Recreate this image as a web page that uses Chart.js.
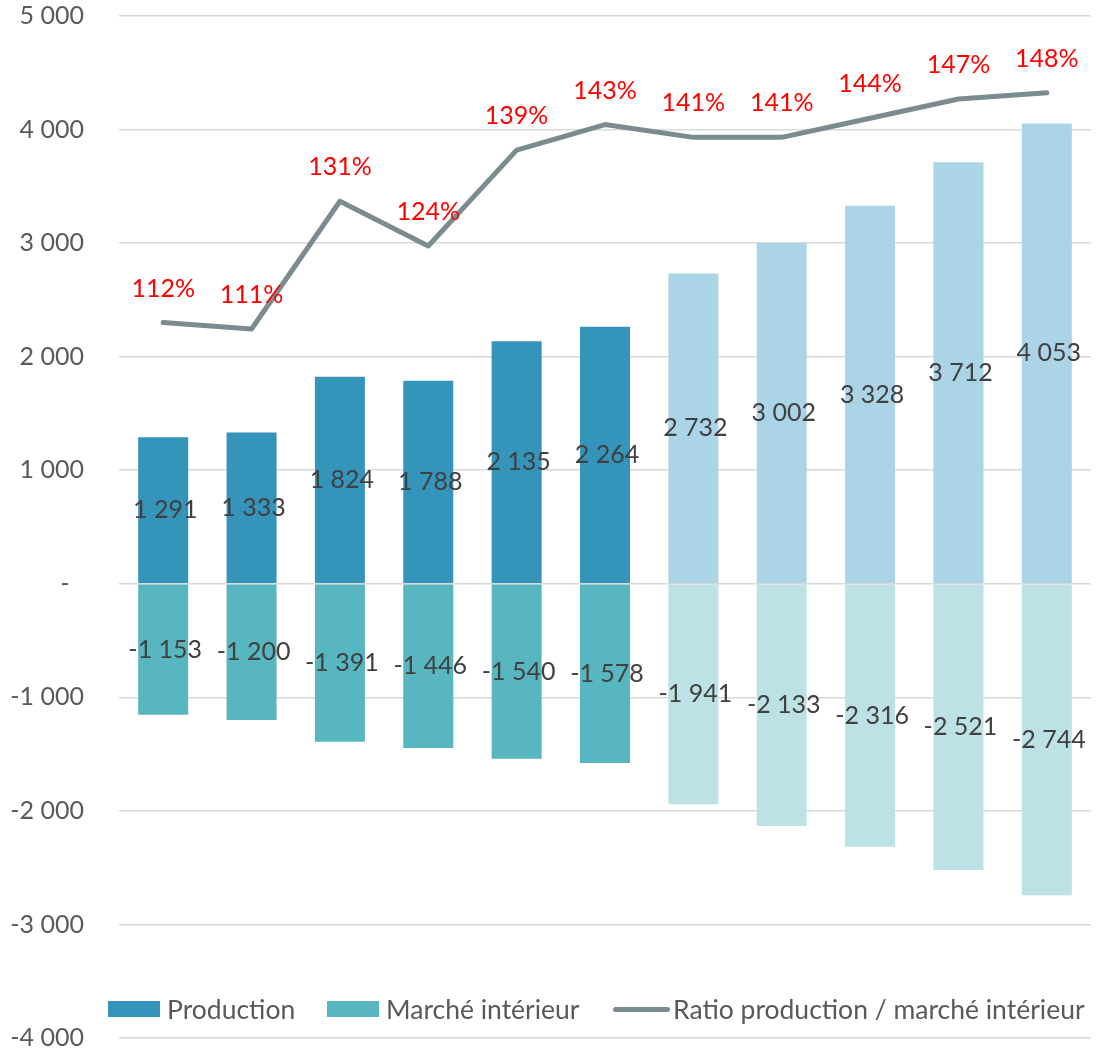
<!DOCTYPE html>
<html>
<head>
<meta charset="utf-8">
<script src="https://cdn.jsdelivr.net/npm/chart.js@4"></script>
<style>
  body { margin: 0; background: #fff; }
  #wrap { position: relative; width: 1102px; height: 1050px; }
  #legende { position: absolute; left: 0; top: 0; width: 100%; height: 100%; pointer-events: none;
    font-family: Lato, sans-serif; font-size: 26.5px; color: #595959; }
  .item { position: absolute; top: 992px; display: flex; align-items: center; height: 34px; white-space: nowrap; }
  .boite { width: 52px; height: 16px; margin-right: 7px; }
  .trait { width: 57px; height: 5px; border-radius: 3px; margin-right: 3px; }
</style>
</head>
<body>
<div id="wrap">
  <canvas id="graphique"></canvas>
  <div id="legende"></div>
</div>
<script>
const categories = ['1', '2', '3', '4', '5', '6', '7', '8', '9', '10', '11'];
const production = [1291, 1333, 1824, 1788, 2135, 2264, 2732, 3002, 3328, 3712, 4053];
const marcheInterieur = [-1153, -1200, -1391, -1446, -1540, -1578, -1941, -2133, -2316, -2521, -2744];
const ratio = [1.12, 1.11, 1.31, 1.24, 1.39, 1.43, 1.41, 1.41, 1.44, 1.47, 1.48];
const yMin = -4000, yMax = 5000, yStep = 1000;

// les 6 premieres annees en couleur foncee, les suivantes en clair
const nbFonce = 6;
const couleurs = {
  production: ['#3494BA', '#ABD4E6'],
  marche: ['#58B6C0', '#BDE2E5'],
  ratio: '#7A8C8E',
};

const fmt = (v) => {
  if (v === 0) return '-';
  const s = Math.abs(v).toString().replace(/\B(?=(\d{3})+(?!\d))/g, ' ');
  return (v < 0 ? '-' : '') + s;
};

const etiquettes = {
  id: 'etiquettes',
  afterDatasetsDraw(chart) {
    const ctx = chart.ctx;
    ctx.save();
    ctx.font = '25px Lato';
    ctx.textAlign = 'center';
    ctx.textBaseline = 'middle';
    [0, 1].forEach((i) => {
      const values = chart.data.datasets[i].data;
      chart.getDatasetMeta(i).data.forEach((bar, j) => {
        ctx.fillStyle = '#404040';
        ctx.fillText(fmt(values[j]), bar.x + 2, (bar.y + bar.base) / 2);
      });
    });
    const valeurs = chart.data.datasets[2].data;
    chart.getDatasetMeta(2).data.forEach((pt, j) => {
      ctx.fillStyle = '#FF0000';
      ctx.fillText(Math.round(valeurs[j] * 100) + '%', pt.x, pt.y - 34);
    });
    ctx.restore();
  },
};

const configGraphique = () => {
  return new Chart(document.getElementById('graphique'), {
    data: {
      labels: categories,
      datasets: [
        {
          type: 'bar',
          label: 'Production',
          data: production,
          backgroundColor: (c) => couleurs.production[c.dataIndex < nbFonce ? 0 : 1],
          legendColor: couleurs.production[0],
          barPercentage: 0.566,
          categoryPercentage: 1,
          order: 2,
        },
        {
          type: 'bar',
          label: 'Marché intérieur',
          data: marcheInterieur,
          backgroundColor: (c) => couleurs.marche[c.dataIndex < nbFonce ? 0 : 1],
          legendColor: couleurs.marche[0],
          barPercentage: 0.566,
          categoryPercentage: 1,
          order: 2,
        },
        {
          type: 'line',
          label: 'Ratio production / marché intérieur',
          data: ratio,
          yAxisID: 'y1',
          borderColor: couleurs.ratio,
          legendColor: couleurs.ratio,
          borderWidth: 5,
          borderCapStyle: 'round',
          borderJoinStyle: 'round',
          pointRadius: 0,
          tension: 0,
          order: 1,
        },
      ],
    },
    options: {
      responsive: true,
      maintainAspectRatio: false,
      animation: false,
      layout: { padding: { top: 16, bottom: 12, right: 11, left: 0 } },
      plugins: { legend: { display: false }, tooltip: { enabled: false } },
      scales: {
        x: { display: false, stacked: true },
        y: {
          stacked: true,
          min: yMin,
          max: yMax,
          ticks: {
            stepSize: yStep,
            padding: 35,
            color: '#595959',
            font: { family: 'Lato', size: 25 },
            // le zero s'affiche en tiret, decale comme en format comptable
            callback: (v) => (v === 0 ? '-\u2007' : fmt(v)),
          },
          grid: { color: '#D9D9D9', lineWidth: 1.5, drawTicks: false },
          border: { display: false },
          afterFit: (scale) => {
            scale.width = 119;
            scale.paddingTop = 0;
            scale.paddingBottom = 0;
          },
        },
        y1: { display: false, min: 0, max: 1.6 },
      },
    },
    plugins: [etiquettes],
  });
};

const configLegende = (chart) => {
  const positions = [108, 327, 613];
  const box = document.getElementById('legende');
  chart.data.datasets.forEach((ds, i) => {
    const item = document.createElement('div');
    item.className = 'item';
    item.style.left = positions[i] + 'px';
    const marque = document.createElement('span');
    marque.className = ds.type === 'line' ? 'trait' : 'boite';
    marque.style.background = ds.legendColor;
    const texte = document.createElement('span');
    texte.textContent = ds.label;
    item.appendChild(marque);
    item.appendChild(texte);
    box.appendChild(item);
  });
};

document.fonts.load('25px Lato').finally(() => {
  const chart = configGraphique();
  configLegende(chart);
});
</script>
</body>
</html>
